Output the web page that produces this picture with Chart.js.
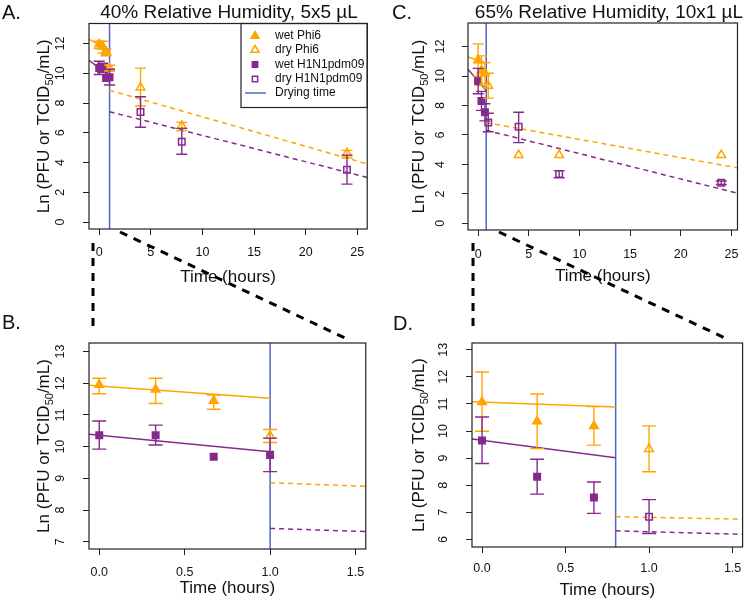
<!DOCTYPE html>
<html>
<head>
<meta charset="utf-8">
<script src="https://cdn.jsdelivr.net/npm/chart.js@4"></script>
<style>
  body { margin: 0; background: #fff; width: 750px; height: 601px; position: relative; overflow: hidden; }
  canvas { position: absolute; }
  #over { pointer-events: none; }
</style>
</head>
<body>
<canvas id="cA" width="375" height="300" style="left:0;top:0"></canvas>
<canvas id="cC" width="375" height="300" style="left:375px;top:0"></canvas>
<canvas id="cB" width="375" height="301" style="left:0;top:300px"></canvas>
<canvas id="cD" width="375" height="301" style="left:375px;top:300px"></canvas>
<canvas id="over" width="750" height="601" style="left:0;top:0"></canvas>
<script>
const ORANGE = '#FFA500';
const PURPLE = '#86298C';
const BLUE   = '#4F68C9';
const INK    = '#111';
const FONT   = '"Liberation Sans", Arial, sans-serif';

const seriesNames = ['wet Phi6', 'dry Phi6', 'wet H1N1pdm09', 'dry H1N1pdm09', 'Drying time'];

// ticks
const hourTicks      = [0, 5, 10, 15, 20, 25];
const zoomTicks      = [0, 0.5, 1, 1.5];
const zoomTickLabels = ['0.0', '0.5', '1.0', '1.5'];
const fullYTicks     = [0, 2, 4, 6, 8, 10, 12];
const yTicksB        = [7, 8, 9, 10, 11, 12, 13];
const yTicksD        = [6, 7, 8, 9, 10, 11, 12, 13];

// 40% relative humidity, 5x5 uL
const dryingTime40  = 1.0;
const wetPhi6Time40 = [0, 0.33, 0.67];
const wetPhi6Mean40 = [11.95, 11.8, 11.45];
const wetPhi6Lo40   = [11.67, 11.36, 11.18];
const wetPhi6Hi40   = [12.16, 12.16, 11.63];
const dryPhi6Time40 = [1, 4, 8, 24];
const dryPhi6Mean40 = [10.34, 9.05, 6.48, 4.63];
const dryPhi6Lo40   = [10.13, 7.8, 6.15, 4.3];
const dryPhi6Hi40   = [10.54, 10.35, 6.7, 4.82];
const wetFluTime40  = [0, 0.33, 0.67, 1];
const wetFluMean40  = [10.36, 10.36, 9.68, 9.74];
const wetFluLo40    = [9.92, 10.05, null, 9.21];
const wetFluHi40    = [10.81, 10.68, null, 10.27];
const dryFluTime40  = [4, 8, 24];
const dryFluMean40  = [7.4, 5.4, 3.52];
const dryFluLo40    = [6.37, 4.56, 2.55];
const dryFluHi40    = [8.42, 6.3, 4.5];
const wetFitX40     = [-1, 1];
const wetFitPhi6_40 = [12.3, 11.53];
const wetFitFlu40   = [10.88, 9.84];
const dryFitX40     = [1, 26];
const dryFitPhi6_40 = [8.86, 3.9];
const dryFitFlu40   = [7.42, 2.99];

// 65% relative humidity, 10x1 uL
const dryingTime65  = 0.8;
const wetPhi6Time65 = [0, 0.33, 0.67];
const wetPhi6Mean65 = [11.07, 10.36, 10.19];
const wetPhi6Lo65   = [9.99, 9.35, 9.48];
const wetPhi6Hi65   = [12.18, 11.37, 10.9];
const dryPhi6Time65 = [1, 4, 8, 24];
const dryPhi6Mean65 = [9.34, 4.64, 4.64, 4.64];
const dryPhi6Lo65   = [8.5, null, null, null];
const dryPhi6Hi65   = [10.19, null, null, null];
const wetFluTime65  = [0, 0.33, 0.67];
const wetFluMean65  = [9.65, 8.31, 7.55];
const wetFluLo65    = [8.8, 7.67, 6.96];
const wetFluHi65    = [10.52, 8.96, 8.12];
const dryFluTime65  = [1, 4, 8, 24];
const dryFluMean65  = [6.84, 6.55, 3.35, 2.76];
const dryFluLo65    = [6.22, 5.48, 3.1, 2.64];
const dryFluHi65    = [7.47, 7.54, 3.58, 2.88];
const wetFitX65     = [-1, 0.8];
const wetFitPhi6_65 = [11.3, 10.89];
const wetFitFlu65   = [10.47, 9.01];
const dryFitX65     = [0.8, 26];
const dryFitPhi6_65 = [6.84, 3.72];
const dryFitFlu65   = [6.32, 1.98];

function makeExp(dry, s, f) {
  return {
    dry: dry,
    series: [
      { t: s[0], y: s[1], lo: s[2], hi: s[3], color: ORANGE, style: 'triangle', filled: true },
      { t: s[4], y: s[5], lo: s[6], hi: s[7], color: ORANGE, style: 'triangle', filled: false },
      { t: s[8], y: s[9], lo: s[10], hi: s[11], color: PURPLE, style: 'rect', filled: true },
      { t: s[12], y: s[13], lo: s[14], hi: s[15], color: PURPLE, style: 'rect', filled: false }
    ],
    fits: [
      { x: f[0], y: f[1], color: ORANGE, dash: [] },
      { x: f[0], y: f[2], color: PURPLE, dash: [] },
      { x: f[3], y: f[4], color: ORANGE, dash: [5, 4] },
      { x: f[3], y: f[5], color: PURPLE, dash: [5, 4] }
    ]
  };
}

const exp40 = makeExp(dryingTime40,
  [wetPhi6Time40, wetPhi6Mean40, wetPhi6Lo40, wetPhi6Hi40, dryPhi6Time40, dryPhi6Mean40, dryPhi6Lo40, dryPhi6Hi40,
   wetFluTime40, wetFluMean40, wetFluLo40, wetFluHi40, dryFluTime40, dryFluMean40, dryFluLo40, dryFluHi40],
  [wetFitX40, wetFitPhi6_40, wetFitFlu40, dryFitX40, dryFitPhi6_40, dryFitFlu40]);
const exp65 = makeExp(dryingTime65,
  [wetPhi6Time65, wetPhi6Mean65, wetPhi6Lo65, wetPhi6Hi65, dryPhi6Time65, dryPhi6Mean65, dryPhi6Lo65, dryPhi6Hi65,
   wetFluTime65, wetFluMean65, wetFluLo65, wetFluHi65, dryFluTime65, dryFluMean65, dryFluLo65, dryFluHi65],
  [wetFitX65, wetFitPhi6_65, wetFitFlu65, dryFitX65, dryFitPhi6_65, dryFitFlu65]);

function pts(xs, ys) { return xs.map((v, i) => ({ x: v, y: ys[i] })); }

function symbol(c, style, filled, color, x, y, r) {
  c.beginPath();
  if (style === 'triangle') {
    c.moveTo(x, y - r);
    c.lineTo(x + r * 0.866, y + r * 0.5);
    c.lineTo(x - r * 0.866, y + r * 0.5);
    c.closePath();
  } else {
    c.rect(x - r * 0.7, y - r * 0.7, r * 1.4, r * 1.4);
  }
  c.strokeStyle = color;
  c.lineWidth = 1.5;
  if (filled) { c.fillStyle = color; c.fill(); }
  c.stroke();
}

function yTitle(c, x, y) {
  const parts = [['Ln (PFU or TCID', 17, 0], ['50', 11, 4], ['/mL)', 17, 0]];
  let total = 0;
  parts.forEach(pt => { c.font = pt[1] + 'px ' + FONT; total += c.measureText(pt[0]).width; });
  c.save();
  c.translate(x, y);
  c.rotate(-Math.PI / 2);
  c.textAlign = 'left';
  c.textBaseline = 'alphabetic';
  let cx = -total / 2;
  parts.forEach(pt => {
    c.font = pt[1] + 'px ' + FONT;
    c.fillText(pt[0], cx, 6 + pt[2]);
    cx += c.measureText(pt[0]).width;
  });
  c.restore();
}

function decor(p, ex) {
  return {
    id: 'decor',
    afterDatasetsDraw(chart) {
      const c = chart.ctx, xs = chart.scales.x, ys = chart.scales.y, a = chart.chartArea;
      c.save();
      c.beginPath();
      c.rect(a.left, a.top, a.right - a.left, a.bottom - a.top);
      c.clip();
      c.lineWidth = 1.4;
      ex.series.forEach(s => {
        c.strokeStyle = s.color;
        s.t.forEach((t, i) => {
          if (s.lo[i] == null) return;
          const x = xs.getPixelForValue(t);
          const y1 = ys.getPixelForValue(s.lo[i]);
          const y2 = ys.getPixelForValue(s.hi[i]);
          c.beginPath();
          c.moveTo(x, y1); c.lineTo(x, y2);
          c.moveTo(x - p.cap, y1); c.lineTo(x + p.cap, y1);
          c.moveTo(x - p.cap, y2); c.lineTo(x + p.cap, y2);
          c.stroke();
        });
      });
      c.restore();
    },
    afterDraw(chart) {
      const c = chart.ctx, a = chart.chartArea;
      c.save();
      c.strokeStyle = '#222';
      c.lineWidth = 1.2;
      c.strokeRect(a.left, a.top, a.right - a.left, a.bottom - a.top);

      c.fillStyle = INK;
      c.textBaseline = 'middle';
      c.textAlign = 'left';
      c.font = '20px ' + FONT;
      c.fillText(p.letter, p.letterX, p.letterY);
      if (p.title) {
        c.textAlign = 'center';
        c.font = '19px ' + FONT;
        c.fillText(p.title, p.titleX, 13);
      }
      c.textAlign = 'center';
      c.font = '17px ' + FONT;
      c.fillText('Time (hours)', (a.left + a.right) / 2, p.xTitleY);
      yTitle(c, 43, (a.top + a.bottom) / 2);

      if (p.legend) {
        c.strokeStyle = '#222';
        c.lineWidth = 1.2;
        c.strokeRect(241, a.top, a.right - 241, 84);
        const rows = [36, 50, 64.5, 79, 93];
        ex.series.forEach((s, i) => symbol(c, s.style, s.filled, s.color, 255, rows[i], s.style === 'rect' ? 3.8 : 4.6));
        c.strokeStyle = BLUE;
        c.lineWidth = 1.5;
        c.beginPath(); c.moveTo(245, rows[4]); c.lineTo(266, rows[4]); c.stroke();
        c.fillStyle = INK;
        c.textAlign = 'left';
        c.font = '12px ' + FONT;
        seriesNames.forEach((n, i) => c.fillText(n, 275, rows[i]));
      }
      c.restore();
    }
  };
}

function buildChart(id, p, ex) {
  const datasets = ex.series.map((s, i) => ({
    label: seriesNames[i],
    data: pts(s.t, s.y),
    pointStyle: s.style,
    pointRadius: s.style === 'rect' ? 4.6 : 5,
    pointBorderWidth: 1.5,
    pointBorderColor: s.color,
    pointBackgroundColor: s.filled ? s.color : 'rgba(255,255,255,0)',
    showLine: false
  }));
  ex.fits.forEach(f => datasets.push({
    data: pts(f.x, f.y),
    showLine: true,
    borderColor: f.color,
    borderWidth: 1.5,
    borderDash: f.dash,
    pointRadius: 0
  }));
  datasets.push({
    label: seriesNames[4],
    data: [{ x: ex.dry, y: p.yMin }, { x: ex.dry, y: p.yMax }],
    showLine: true,
    borderColor: BLUE,
    borderWidth: 1.5,
    pointRadius: 0
  });

  const tickFont = { family: FONT, size: 12.5 };
  const axisGrid = { display: true, drawOnChartArea: false, drawTicks: true, tickLength: 6, color: '#222', lineWidth: 1 };

  return new Chart(document.getElementById(id), {
    type: 'scatter',
    data: { datasets: datasets },
    options: {
      responsive: false,
      animation: false,
      devicePixelRatio: 1,
      layout: { padding: { top: p.box.t, right: p.W - p.box.r, left: 0, bottom: 0 } },
      plugins: { legend: { display: false }, tooltip: { enabled: false } },
      scales: {
        x: {
          type: 'linear',
          min: p.xMin, max: p.xMax,
          afterBuildTicks: s => { s.ticks = p.xTicks.map(v => ({ value: v })); },
          afterFit: s => { s.height = p.H - p.box.b; },
          grid: axisGrid,
          border: { display: false },
          ticks: {
            autoSkip: false, minRotation: 0, maxRotation: 0,
            padding: p.xPad, color: INK, font: tickFont,
            callback: (v, i) => p.xLabels ? p.xLabels[i] : String(v)
          }
        },
        y: {
          type: 'linear',
          min: p.yMin, max: p.yMax,
          afterBuildTicks: s => { s.ticks = p.yTicks.map(v => ({ value: v })); },
          afterFit: s => { s.width = p.box.l; },
          grid: axisGrid,
          border: { display: false },
          ticks: {
            autoSkip: false, minRotation: 90, maxRotation: 90, crossAlign: 'center',
            padding: p.yPad, color: INK, font: tickFont,
            callback: v => String(v)
          }
        }
      }
    },
    plugins: [decor(p, ex)]
  });
}

buildChart('cA', {
  W: 375, H: 300, box: { l: 89, t: 23, r: 370, b: 229 },
  xMin: -0.99, xMax: 25.96, yMin: -0.47, yMax: 13.35,
  xTicks: hourTicks, yTicks: fullYTicks, xPad: 10.5, yPad: 16, cap: 5.5,
  letter: 'A.', letterX: 2, letterY: 13, title: '40% Relative Humidity, 5x5 µL', titleX: 229,
  xTitleY: 277, legend: true
}, exp40);

buildChart('cC', {
  W: 375, H: 300, box: { l: 93, t: 23, r: 369, b: 230 },
  xMin: -1.0, xMax: 25.6, yMin: -0.45, yMax: 13.6,
  xTicks: hourTicks, yTicks: fullYTicks, xPad: 11.5, yPad: 15, cap: 5.5,
  letter: 'C.', letterX: 17, letterY: 13, title: '65% Relative Humidity, 10x1 µL', titleX: 234,
  xTitleY: 276, legend: false
}, exp65);

buildChart('cB', {
  W: 375, H: 301, box: { l: 89, t: 43, r: 367, b: 249 },
  xMin: -0.06, xMax: 1.56, yMin: 6.77, yMax: 13.27,
  xTicks: zoomTicks, xLabels: zoomTickLabels, yTicks: yTicksB, xPad: 10.5, yPad: 16, cap: 7,
  letter: 'B.', letterX: 2, letterY: 23, title: null,
  xTitleY: 288, legend: false
}, exp40);

buildChart('cD', {
  W: 375, H: 301, box: { l: 97, t: 43, r: 372, b: 247 },
  xMin: -0.06, xMax: 1.56, yMin: 5.72, yMax: 13.25,
  xTicks: zoomTicks, xLabels: zoomTickLabels, yTicks: yTicksD, xPad: 8.5, yPad: 16, cap: 7,
  letter: 'D.', letterX: 18, letterY: 24, title: null,
  xTitleY: 290, legend: false
}, exp65);

// zoom connectors between the panels
const oc = document.getElementById('over').getContext('2d');
oc.strokeStyle = '#000';
oc.lineWidth = 3;
oc.setLineDash([8, 7]);
[[93, 243, 93, 333], [120, 232, 345, 338], [473, 243, 473, 333], [499, 232, 725, 338]].forEach(l => {
  oc.beginPath();
  oc.moveTo(l[0], l[1]);
  oc.lineTo(l[2], l[3]);
  oc.stroke();
});
</script>
</body>
</html>
